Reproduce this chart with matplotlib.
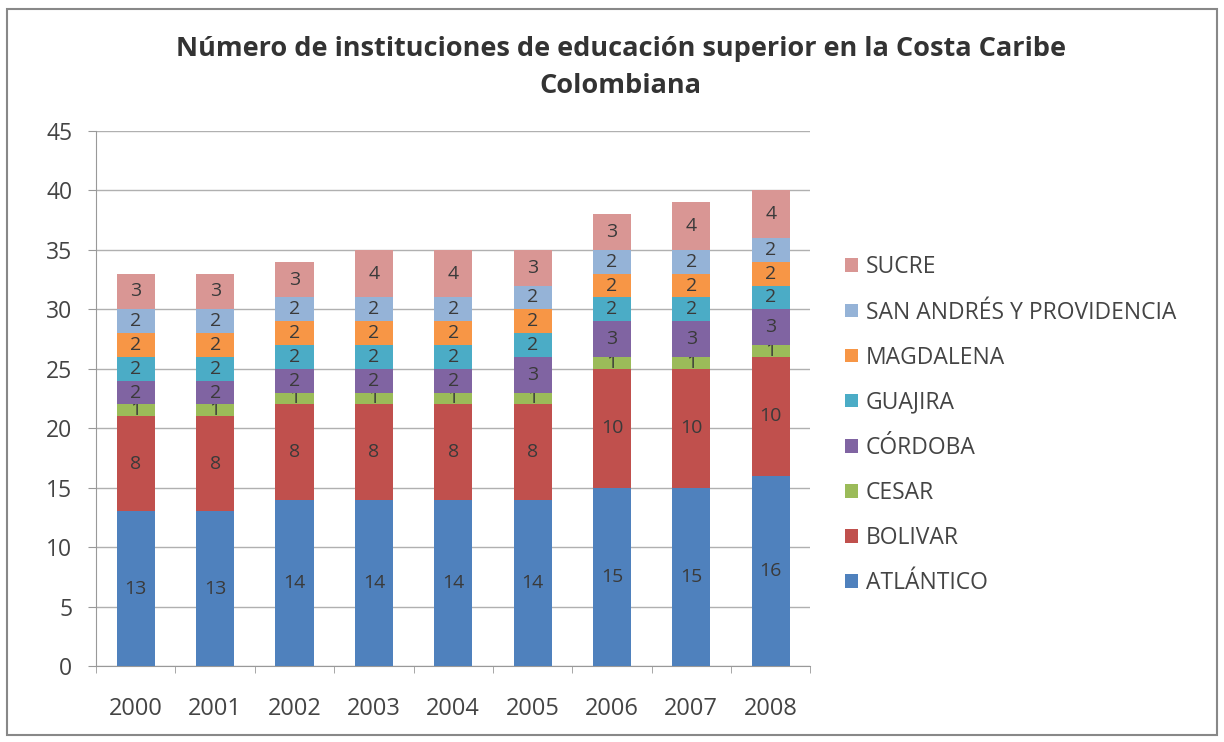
import numpy as np
import matplotlib.pyplot as plt
from matplotlib.patches import Rectangle

plt.rcParams['font.family'] = ['Open Sans', 'DejaVu Sans']

years = ['2000', '2001', '2002', '2003', '2004', '2005', '2006', '2007', '2008']
atlantico = [13, 13, 14, 14, 14, 14, 15, 15, 16]
bolivar = [8, 8, 8, 8, 8, 8, 10, 10, 10]
cesar = [1, 1, 1, 1, 1, 1, 1, 1, 1]
cordoba = [2, 2, 2, 2, 2, 3, 3, 3, 3]
guajira = [2, 2, 2, 2, 2, 2, 2, 2, 2]
magdalena = [2, 2, 2, 2, 2, 2, 2, 2, 2]
san_andres = [2, 2, 2, 2, 2, 2, 2, 2, 2]
sucre = [3, 3, 3, 4, 4, 3, 3, 4, 4]

series = [
    ('ATLÁNTICO', atlantico, '#4F81BD'),
    ('BOLIVAR', bolivar, '#C0504D'),
    ('CESAR', cesar, '#9BBB59'),
    ('CÓRDOBA', cordoba, '#8064A2'),
    ('GUAJIRA', guajira, '#4BACC6'),
    ('MAGDALENA', magdalena, '#F79646'),
    ('SAN ANDRÉS Y PROVIDENCIA', san_andres, '#95B3D7'),
    ('SUCRE', sucre, '#D99694'),
]

fig = plt.figure(figsize=(12.24, 7.42), dpi=100)
ax = fig.add_axes([0.0785, 0.1024, 0.5836, 0.7211])

x = np.arange(len(years))
bottom = np.zeros(len(years))
for name, vals, col in series:
    vals = np.array(vals)
    bars = ax.bar(x, vals, 0.48, bottom=bottom, color=col, label=name, zorder=3)
    ax.bar_label(bars, labels=[str(v) for v in vals], label_type='center',
                 fontsize=14, color='#3a3a3a')
    bottom += vals

ax.set_xlim(-0.5, len(years) - 0.5)
ax.set_ylim(0, 45)
ax.set_yticks(range(0, 46, 5))
ax.set_xticks(x)
ax.set_xticklabels(years)
ax.set_xticks(np.arange(-0.5, len(years), 1), minor=True)
ax.tick_params(axis='x', which='major', length=0, labelsize=17, pad=22, colors='#444444')
ax.tick_params(axis='x', which='minor', length=5, color='#999999')
ax.tick_params(axis='y', length=6, labelsize=16.5, pad=11, colors='#444444', color='#999999')
ax.grid(axis='y', color='#b0b0b0', linewidth=1, zorder=0)
for s in ['top', 'right']:
    ax.spines[s].set_visible(False)
for s in ['left', 'bottom']:
    ax.spines[s].set_color('#999999')

handles, labels = ax.get_legend_handles_labels()
ax.legend(handles[::-1], labels[::-1], loc='center left', bbox_to_anchor=(1.02, 0.45),
          frameon=False, fontsize=16.5, handlelength=0.55, handleheight=0.55,
          handletextpad=0.35, labelspacing=0.92, labelcolor='#444444')

fig.suptitle('Número de instituciones de educación superior en la Costa Caribe\nColombiana',
             x=0.507, y=0.952, fontsize=19.5, fontweight='bold', color='#333333',
             linespacing=1.55)

fig.patches.append(Rectangle((0.006, 0.01), 0.988, 0.978, transform=fig.transFigure,
                             fill=False, edgecolor='#888888', linewidth=1.5))

fig.savefig('out.png', dpi=100)
